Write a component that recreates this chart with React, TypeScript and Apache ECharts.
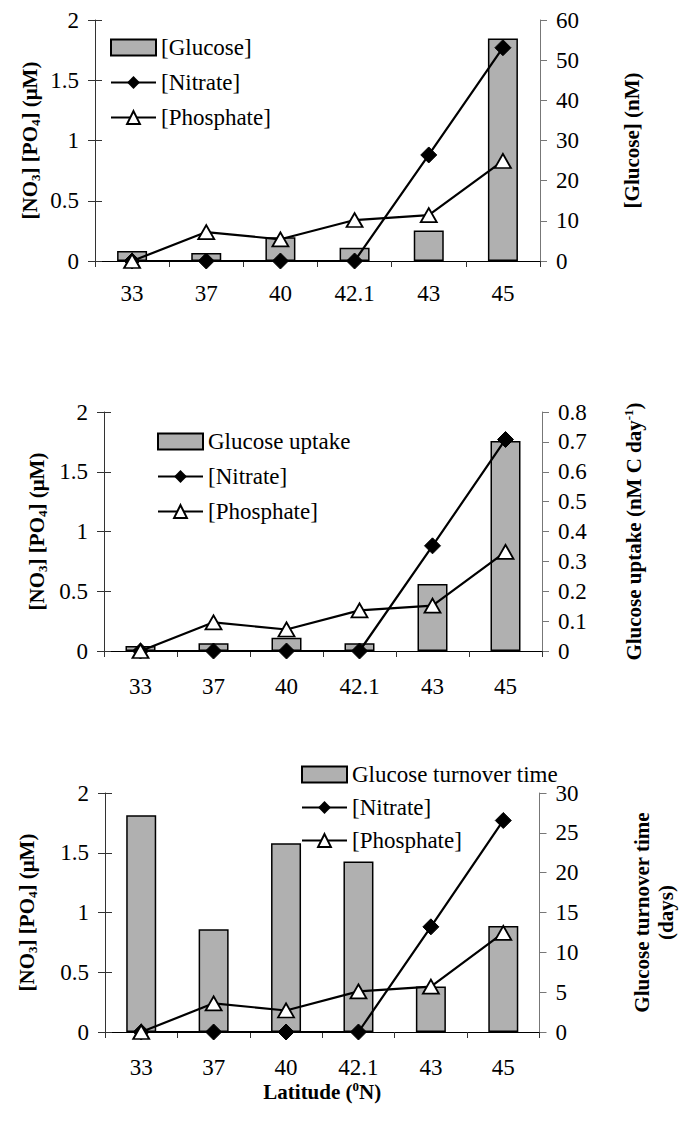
import React, { useEffect, useRef } from "react";
import * as echarts from "echarts";

const latitudes = ["33", "37", "40", "42.1", "43", "45"];
const nitrate = [0, 0, 0, 0, 0.88, 1.77];
const phosphate = [0, 0.24, 0.18, 0.34, 0.38, 0.83];
const glucoseConc = [2.5, 2.0, 5.9, 3.3, 7.6, 55.4];
const glucoseUptake = [0.017, 0.026, 0.044, 0.026, 0.224, 0.703];
const turnoverTime = [27.2, 12.9, 23.7, 21.4, 5.7, 13.3];

const barNames = ["[Glucose]", "Glucose uptake", "Glucose turnover time"];
const barData = [glucoseConc, glucoseUptake, turnoverTime];
const rightMax = [60, 0.8, 30];
const rightInterval = [10, 0.1, 5];
const rightNames = [
  "{a|[Glucose] (nM)}",
  "{a|Glucose uptake (nM C day}{s|-1}{a|)}",
  "{a|Glucose turnover time}\n{a|(days)}",
];
const leftName = "{b|[NO}{sub|3}{b|] [PO}{sub|4}{b|] (\u03bcM)}";
const xName = "{a|Latitude (}{s|0}{a|N)}";

const FONT = "'Liberation Serif', 'Times New Roman', serif";

const layout = [
  { left: 95, right: 144, top: 20, height: 241, lgLeft: 110, lgTop: 36, lgGap: 12, leftGap: 53, rightGap: 80, xMargin: 21 },
  { left: 104, right: 142, top: 412, height: 239, lgLeft: 157, lgTop: 430, lgGap: 12, leftGap: 55, rightGap: 80, xMargin: 24 },
  { left: 105, right: 130, top: 793, height: 239, lgLeft: 301, lgTop: 763, lgGap: 10, leftGap: 66, rightGap: 90, xMargin: 24 },
];

export default function App() {
  const ref = useRef<HTMLDivElement>(null);
  useEffect(() => {
    if (!ref.current) return;
    const chart = echarts.init(ref.current, undefined, { renderer: "svg" });
    const grids: any[] = [];
    const xAxes: any[] = [];
    const yAxes: any[] = [];
    const series: any[] = [];
    const legends: any[] = [];
    const labelStyle = { fontFamily: FONT, fontSize: 23, color: "#000" };
    const boldRich = {
      a: { fontFamily: FONT, fontWeight: "bold", fontSize: 21, lineHeight: 24, color: "#000" },
      b: { fontFamily: FONT, fontWeight: "bold", fontSize: 21, lineHeight: 24, color: "#000" },
      s: { fontFamily: FONT, fontWeight: "bold", fontSize: 13, lineHeight: 13, verticalAlign: "top", color: "#000" },
      sub: { fontFamily: FONT, fontWeight: "bold", fontSize: 13, lineHeight: 13, verticalAlign: "bottom", color: "#000" },
    };
    layout.forEach((L, p) => {
      grids.push({ left: L.left, right: L.right, top: L.top, height: L.height, containLabel: false });
      const xa: any = {
        type: "category",
        gridIndex: p,
        data: latitudes,
        boundaryGap: true,
        axisLine: { lineStyle: { color: "#000", width: 1.2 } },
        axisTick: { show: true, length: 6, lineStyle: { color: "#333" } },
        axisLabel: { ...labelStyle, margin: L.xMargin, interval: 0 },
        splitLine: { show: false },
      };
      if (p === 2) {
        xa.name = xName;
        xa.nameLocation = "middle";
        xa.nameGap = 48;
        xa.nameMoveOverlap = false;
        xa.nameTextStyle = { fontFamily: FONT, fontWeight: "bold", fontSize: 21, color: "#000", rich: boldRich };
      }
      xAxes.push(xa);
      yAxes.push({
        type: "value",
        gridIndex: p,
        position: "left",
        min: 0,
        max: 2,
        interval: 0.5,
        axisLine: { show: true, lineStyle: { color: "#333", width: 1 } },
        axisTick: { show: true, length: 7, lineStyle: { color: "#333" } },
        axisLabel: { ...labelStyle, margin: 16 },
        splitLine: { show: false },
        name: leftName,
        nameLocation: "middle",
        nameRotate: 90,
        nameGap: L.leftGap,
        nameMoveOverlap: false,
        nameTextStyle: { fontFamily: FONT, fontWeight: "bold", fontSize: 21, color: "#000", rich: boldRich },
      });
      yAxes.push({
        type: "value",
        gridIndex: p,
        position: "right",
        min: 0,
        max: rightMax[p],
        interval: rightInterval[p],
        axisLine: { show: true, lineStyle: { color: "#777", width: 1 } },
        axisTick: { show: true, length: 7, lineStyle: { color: "#777" } },
        axisLabel: { ...labelStyle, margin: 16 },
        splitLine: { show: false },
        name: rightNames[p],
        nameLocation: "middle",
        nameRotate: 90,
        nameGap: L.rightGap,
        nameMoveOverlap: false,
        nameTextStyle: { fontFamily: FONT, fontWeight: "bold", fontSize: 21, color: "#000", align: "center", rich: boldRich },
      });
      yAxes.push({
        type: "value",
        gridIndex: p,
        position: "left",
        min: 0,
        max: 2,
        interval: 0.5,
        axisLine: { show: false },
        axisTick: { show: true, inside: true, length: 7, lineStyle: { color: "#333" } },
        axisLabel: { show: false },
        splitLine: { show: false },
      });
      series.push({
        type: "bar",
        name: barNames[p],
        xAxisIndex: p,
        yAxisIndex: 3 * p + 1,
        data: barData[p],
        barWidth: 30,
        itemStyle: { color: "#b0b0b0", borderColor: "#000", borderWidth: 1.5 },
        z: 1,
      });
      series.push({
        type: "line",
        name: "[Nitrate]",
        xAxisIndex: p,
        yAxisIndex: 3 * p,
        data: nitrate,
        symbol: "diamond",
        symbolSize: 16,
        showAllSymbol: true,
        itemStyle: { color: "#000", borderColor: "#000" },
        lineStyle: { color: "#000", width: 2.2 },
        z: 3,
      });
      series.push({
        type: "line",
        name: "[Phosphate]",
        xAxisIndex: p,
        yAxisIndex: 3 * p,
        data: phosphate,
        symbol: "triangle",
        symbolSize: [16, 14],
        showAllSymbol: true,
        itemStyle: { color: "#fff", borderColor: "#000", borderWidth: 1.8 },
        lineStyle: { color: "#000", width: 2.2 },
        z: 4,
      });
      legends.push({
        orient: "vertical",
        left: L.lgLeft,
        top: L.lgTop,
        padding: 0,
        itemGap: L.lgGap,
        itemWidth: 45,
        itemHeight: 16,
        selectedMode: false,
        textStyle: { fontFamily: FONT, fontSize: 23, color: "#000", lineHeight: 23 },
        data: [{ name: barNames[p], icon: "rect" }, "[Nitrate]", "[Phosphate]"],
      });
    });
    chart.setOption({
      animation: false,
      backgroundColor: "#fff",
      textStyle: { fontFamily: FONT },
      grid: grids,
      xAxis: xAxes,
      yAxis: yAxes,
      legend: legends,
      series,
    });
    return () => chart.dispose();
  }, []);
  return (
    <div
      ref={ref}
      style={{ position: "absolute", left: 0, top: 0, width: 684, height: 1122, background: "#fff" }}
    />
  );
}
